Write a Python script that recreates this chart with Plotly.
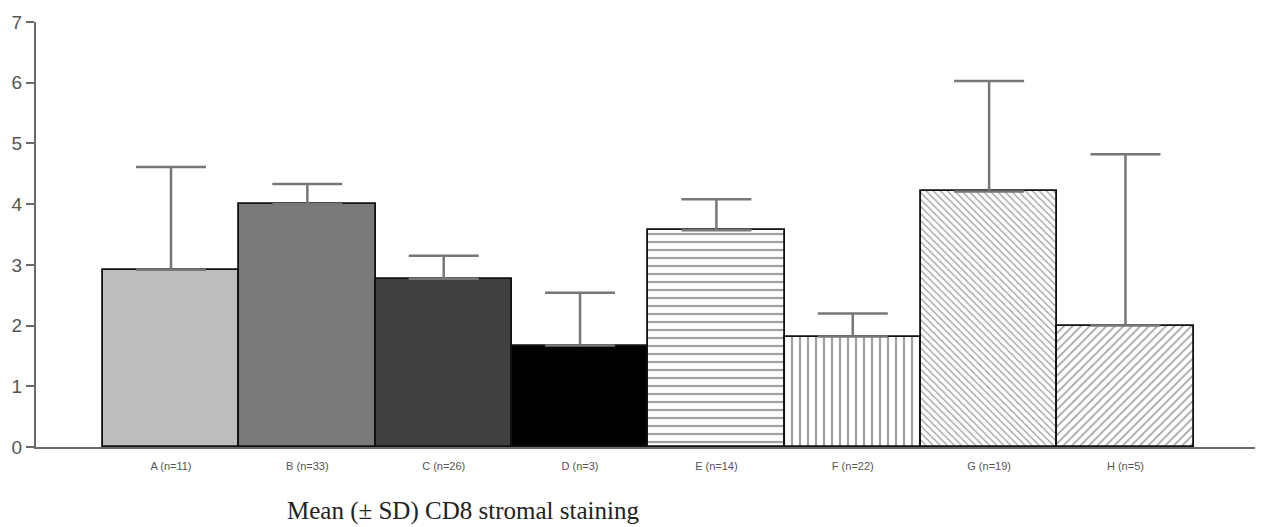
import plotly.graph_objects as go

categories = ["A (n=11)", "B (n=33)", "C (n=26)", "D (n=3)", "E (n=14)", "F (n=22)", "G (n=19)", "H (n=5)"]
means = [2.92, 4.00, 2.77, 1.67, 3.57, 1.82, 4.21, 2.00]
sds = [1.69, 0.33, 0.38, 0.87, 0.51, 0.38, 1.82, 2.82]
fill_colors = ["#bdbdbd", "#7a7a7a", "#404040", "#000000", "#ffffff", "#ffffff", "#ffffff", "#ffffff"]
patterns = ["", "", "", "", "-", "|", "\\", "/"]
pattern_sizes = [8, 8, 8, 8, 8, 8, 5, 6]
y_ticks = [0, 1, 2, 3, 4, 5, 6, 7]

fig = go.Figure()
fig.add_trace(go.Bar(
    x=categories,
    y=means,
    width=1.0,
    marker=dict(
        color=fill_colors,
        line=dict(color="#111111", width=1.8),
        pattern=dict(shape=patterns, fillmode="overlay", fgcolor="#222222",
                     size=pattern_sizes, solidity=0.28),
    ),
    error_y=dict(type="data", symmetric=False, array=sds, arrayminus=[0] * len(sds),
                 color="#777777", thickness=2.5, width=35),
    showlegend=False,
))

fig.update_layout(
    width=1270, height=527,
    margin=dict(l=35, r=15, t=20, b=80),
    plot_bgcolor="white", paper_bgcolor="white",
    bargap=0,
    xaxis=dict(
        range=[-0.99, 7.95],
        showline=True, linecolor="#6a6a6a", linewidth=2,
        ticks="", showgrid=False, zeroline=False, ticklabelstandoff=8,
        tickfont=dict(family="Liberation Sans, Arial", size=11, color="#555555"),
    ),
    yaxis=dict(
        range=[0, 7], tickvals=y_ticks,
        showline=True, linecolor="#6a6a6a", linewidth=2,
        ticks="outside", ticklen=8, tickwidth=2, tickcolor="#6a6a6a",
        showgrid=False, zeroline=False,
        tickfont=dict(family="Liberation Sans, Arial", size=19, color="#555555"),
    ),
    annotations=[dict(
        text="Mean (± SD) CD8 stromal staining",
        xref="paper", yref="paper", x=0.35, y=-0.113, xanchor="center", yanchor="top",
        showarrow=False,
        font=dict(family="Liberation Serif, Times New Roman", size=25, color="#222222"),
    )],
)

fig.write_html("out.html", config={"displayModeBar": False},
               post_script="document.body.style.margin='0';document.body.style.overflow='hidden';")
